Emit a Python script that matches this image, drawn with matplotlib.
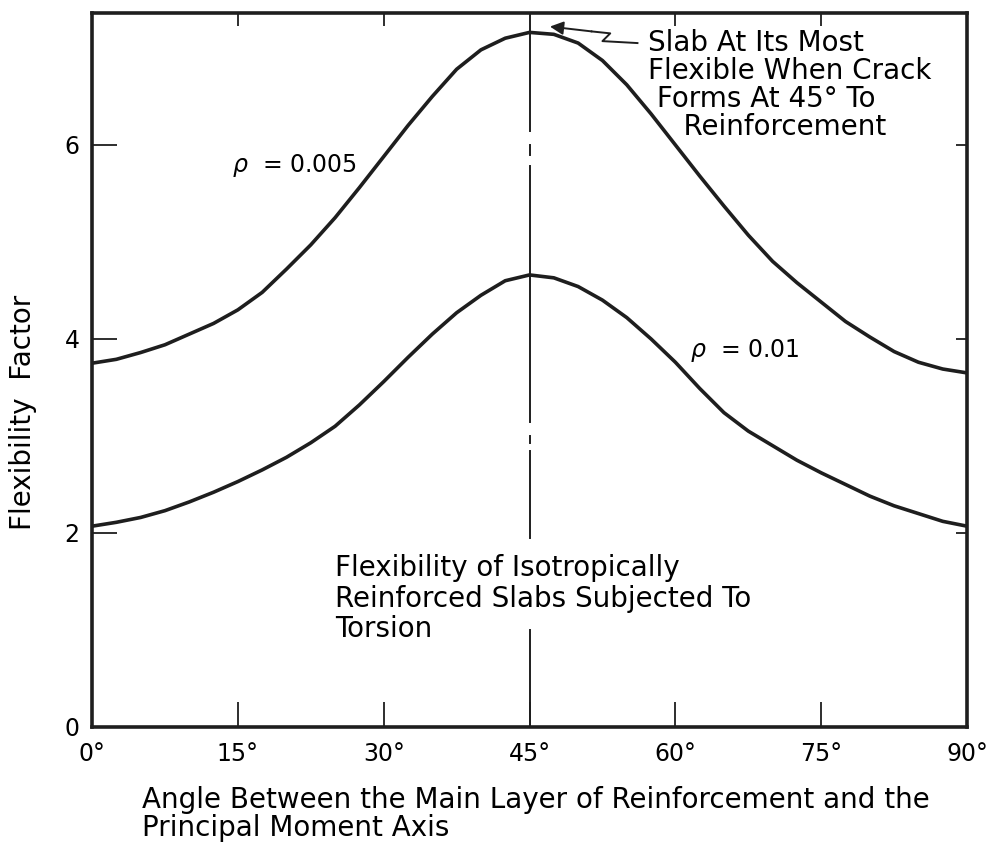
import numpy as np
import matplotlib.pyplot as plt

# angle between main reinforcement layer and principal moment axis (deg)
angle = [0, 2.5, 5, 7.5, 10, 12.5, 15, 17.5, 20, 22.5, 25, 27.5, 30, 32.5, 35, 37.5, 40, 42.5,
         45, 47.5, 50, 52.5, 55, 57.5, 60, 62.5, 65, 67.5, 70, 72.5, 75, 77.5, 80, 82.5, 85, 87.5, 90]
# flexibility factor, rho = 0.005
flex_005 = [3.75, 3.79, 3.86, 3.94, 4.05, 4.16, 4.30, 4.48, 4.72, 4.97, 5.25, 5.56, 5.88, 6.20,
            6.50, 6.78, 6.98, 7.10, 7.16, 7.14, 7.05, 6.87, 6.62, 6.32, 6.00, 5.68, 5.37, 5.07,
            4.80, 4.58, 4.38, 4.18, 4.02, 3.87, 3.76, 3.69, 3.65]
# flexibility factor, rho = 0.01
flex_01 = [2.07, 2.11, 2.16, 2.23, 2.32, 2.42, 2.53, 2.65, 2.78, 2.93, 3.10, 3.32, 3.56, 3.81,
           4.05, 4.27, 4.45, 4.60, 4.66, 4.63, 4.54, 4.40, 4.22, 4.00, 3.76, 3.49, 3.24, 3.05,
           2.90, 2.75, 2.62, 2.50, 2.38, 2.28, 2.20, 2.12, 2.07]

xticks = [0, 15, 30, 45, 60, 75, 90]
xticklabels = ['0°', '15°', '30°', '45°', '60°', '75°', '90°']
yticks = [0, 2, 4, 6]

plt.rcParams['font.family'] = ['DejaVu Sans']
ink = '#1e1e1e'

fig = plt.figure(figsize=(9.95, 8.49), dpi=100)
ax = fig.add_axes([0.0925, 0.1437, 0.8794, 0.841])

ax.plot(angle, flex_005, color=ink, lw=2.6, solid_joinstyle='round', solid_capstyle='round')
ax.plot(angle, flex_01, color=ink, lw=2.6, solid_joinstyle='round', solid_capstyle='round')

# vertical line at 45 deg (broken where it passes the text)
segs = [(0, 1.0), (1.95, 2.84), (2.93, 3.0), (3.14, 5.78), (5.9, 6.0), (6.14, 7.4)]
for y0, y1 in segs:
    ax.plot([45, 45], [y0, y1], color=ink, lw=1.4)

ax.set_xlim(0, 90)
ax.set_ylim(0, 7.36)
ax.set_xticks(xticks)
ax.set_xticklabels(xticklabels)
ax.set_yticks(yticks)
ax.tick_params(direction='in', length=18, width=1.3, labelsize=17, color=ink)
ax.tick_params(axis='x', pad=11)
ax.tick_params(axis='y', pad=9)
for s in ax.spines.values():
    s.set_linewidth(2.6)
    s.set_color(ink)

top = ax.secondary_xaxis('top')
top.set_xticks([15, 30, 60, 75])
top.tick_params(direction='in', length=9, width=1.3, labeltop=False, color=ink)
top.spines['top'].set_visible(False)
right = ax.secondary_yaxis('right')
right.set_yticks([2, 4, 6])
right.tick_params(direction='in', length=8, width=1.3, labelright=False, color=ink)
right.spines['right'].set_visible(False)

ax.set_ylabel('Flexibility  Factor', fontsize=20)
ax.yaxis.set_label_coords(-0.063, 0.44)
fig.text(0.143, 0.008, 'Angle Between the Main Layer of Reinforcement and the\nPrincipal Moment Axis',
         fontsize=20, ha='left', va='bottom', linespacing=1.0)

ax.text(14.4, 5.79, r'$\rho$  = 0.005', fontsize=17, va='center')
ax.text(61.5, 3.88, r'$\rho$  = 0.01', fontsize=17, va='center')

ax.text(25, 1.78, 'Flexibility of Isotropically\nReinforced Slabs Subjected To\nTorsion',
        fontsize=20, va='top', ha='left', linespacing=1.1)

ax.text(57.2, 7.2, 'Slab At Its Most\nFlexible When Crack\n Forms At 45° To\n    Reinforcement',
        fontsize=20, va='top', ha='left', linespacing=1.0)

# squiggly arrow to the peak
ax.plot([56.1, 52.5, 53.3, 51.4], [7.05, 7.07, 7.15, 7.17], color=ink, lw=1.4)
ax.annotate('', xy=(47.1, 7.22), xytext=(51.4, 7.17),
            arrowprops=dict(arrowstyle='-|>', color=ink, lw=1.4,
                            mutation_scale=20, shrinkA=0, shrinkB=0))

fig.savefig('out.png', dpi=100)
